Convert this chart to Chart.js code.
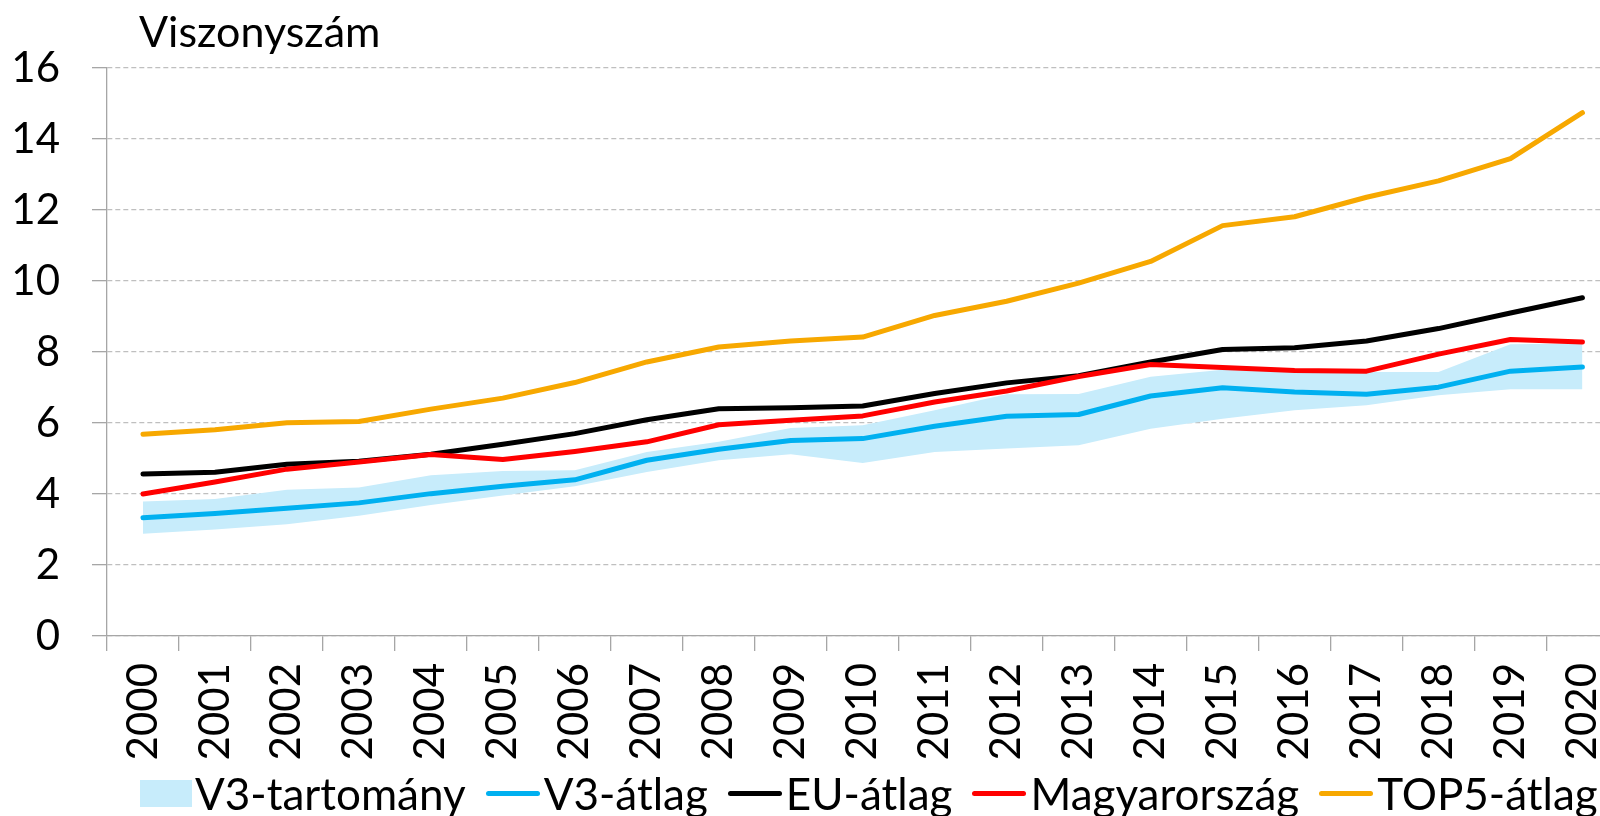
<!DOCTYPE html>
<html>
<head>
<meta charset="utf-8">
<script src="https://cdn.jsdelivr.net/npm/chart.js@4.4.1/dist/chart.umd.min.js"></script>
<style>
  html, body { margin: 0; padding: 0; background: #fff; overflow: hidden; width: 1600px; height: 816px; }
  #wrap { position: relative; width: 1645px; height: 816px; }
  #c { position: absolute; left: 0; top: 0; }
  #title { position: absolute; left: 139px; top: 5px; font: 43px Lato, "Open Sans", sans-serif; color: #000; white-space: nowrap; }
  #legend { position: absolute; left: 140px; top: 771px; height: 44px; display: flex; align-items: center; font: 44px Lato, "Open Sans", sans-serif; color: #000; white-space: nowrap; }
  .item { display: flex; align-items: center; margin-right: 20px; }
  .sw-box { width: 52px; height: 27px; margin-right: 3px; }
  .sw-line { width: 54px; height: 5px; border-radius: 2.5px; margin-right: 4px; }
</style>
</head>
<body>
<div id="wrap">
  <canvas id="c" width="1645" height="816"></canvas>
  <div id="title">Viszonyszám</div>
  <div id="legend"></div>
</div>
<script>
const years = ['2000','2001','2002','2003','2004','2005','2006','2007','2008','2009','2010','2011','2012','2013','2014','2015','2016','2017','2018','2019','2020'];
const yTicks = [0, 2, 4, 6, 8, 10, 12, 14, 16];

const v3Lower = [2.88, 3.00, 3.15, 3.39, 3.69, 3.96, 4.22, 4.62, 4.95, 5.12, 4.87, 5.18, 5.28, 5.37, 5.84, 6.12, 6.36, 6.50, 6.78, 6.95, 6.95];
const v3Upper = [3.79, 3.86, 4.12, 4.18, 4.53, 4.65, 4.67, 5.18, 5.47, 5.86, 5.94, 6.36, 6.81, 6.82, 7.30, 7.50, 7.44, 7.44, 7.44, 8.22, 8.24];
const v3Avg   = [3.33, 3.45, 3.60, 3.75, 4.01, 4.22, 4.40, 4.95, 5.26, 5.51, 5.56, 5.91, 6.19, 6.24, 6.76, 6.99, 6.87, 6.81, 7.01, 7.46, 7.58];
const euAvg   = [4.56, 4.61, 4.84, 4.92, 5.12, 5.40, 5.70, 6.09, 6.40, 6.43, 6.48, 6.83, 7.13, 7.33, 7.72, 8.07, 8.12, 8.31, 8.66, 9.10, 9.53];
const hungary = [4.00, 4.34, 4.70, 4.90, 5.11, 4.97, 5.20, 5.47, 5.95, 6.08, 6.20, 6.59, 6.90, 7.31, 7.65, 7.56, 7.48, 7.46, 7.94, 8.35, 8.28];
const top5Avg = [5.68, 5.81, 6.01, 6.04, 6.39, 6.70, 7.14, 7.72, 8.14, 8.31, 8.42, 9.03, 9.43, 9.94, 10.55, 11.56, 11.81, 12.36, 12.82, 13.45, 14.74];

const seriesNames = ['V3-tartomány', 'V3-átlag', 'EU-átlag', 'Magyarország', 'TOP5-átlag'];
const bandColor = '#C7ECFB';
const colors = { v3: '#00B0F0', eu: '#000000', hu: '#FF0000', top5: '#F7A800' };

function lineDs(label, data, color, order) {
  return {
    label, data, borderColor: color, backgroundColor: color, borderWidth: 5,
    pointRadius: 0, pointHoverRadius: 0, tension: 0, fill: false,
    borderCapStyle: 'round', borderJoinStyle: 'round', order
  };
}

const FONT = { family: 'Lato, "Open Sans", sans-serif', size: 42 };

const chart = new Chart(document.getElementById('c'), {
  type: 'line',
  data: {
    labels: years,
    datasets: [
      { label: '_lower', data: v3Lower, borderWidth: 0, borderColor: 'rgba(0,0,0,0)', pointRadius: 0, fill: false, order: 20 },
      { label: seriesNames[0], data: v3Upper, borderWidth: 0, borderColor: 'rgba(0,0,0,0)', backgroundColor: bandColor, pointRadius: 0, fill: '-1', order: 19 },
      lineDs(seriesNames[1], v3Avg, colors.v3, 5),
      lineDs(seriesNames[2], euAvg, colors.eu, 4),
      lineDs(seriesNames[3], hungary, colors.hu, 3),
      lineDs(seriesNames[4], top5Avg, colors.top5, 2)
    ]
  },
  options: {
    responsive: false,
    animation: false,
    events: [],
    layout: { padding: { left: 0, right: 7, top: 68, bottom: 50 } },
    plugins: { legend: { display: false }, tooltip: { enabled: false }, title: { display: false } },
    scales: {
      x: {
        type: 'category',
        offset: true,
        grid: { display: true, offset: true, drawOnChartArea: false, drawTicks: true, tickLength: 15, color: '#A6A6A6', lineWidth: 1.3 },
        border: { display: true, color: '#A6A6A6', width: 1.3 },
        ticks: { font: FONT, color: '#000', minRotation: 90, maxRotation: 90, padding: 12, autoSkip: false },
        afterFit: (s) => { s.height = 130; }
      },
      y: {
        min: 0, max: 16,
        afterBuildTicks: (s) => { s.ticks = yTicks.map(v => ({ value: v })); },
        grid: { color: '#BFBFBF', lineWidth: 1.3, drawTicks: true, tickLength: 15, tickColor: '#A6A6A6', tickBorderDash: [], borderDash: [5, 3] },
        border: { display: true, color: '#A6A6A6', width: 1.3, dash: [5, 3] },
        ticks: { font: FONT, color: '#000', padding: 32 },
        afterFit: (s) => { s.width = 107; }
      }
    }
  }
});

const legend = document.getElementById('legend');
const swatches = [
  { cls: 'sw-box', color: bandColor },
  { cls: 'sw-line', color: colors.v3 },
  { cls: 'sw-line', color: colors.eu },
  { cls: 'sw-line', color: colors.hu },
  { cls: 'sw-line', color: colors.top5 }
];
seriesNames.forEach((name, i) => {
  const it = document.createElement('div'); it.className = 'item';
  const sw = document.createElement('div'); sw.className = swatches[i].cls; sw.style.background = swatches[i].color;
  const tx = document.createElement('span'); tx.textContent = name;
  it.appendChild(sw); it.appendChild(tx); legend.appendChild(it);
});
</script>
</body>
</html>
